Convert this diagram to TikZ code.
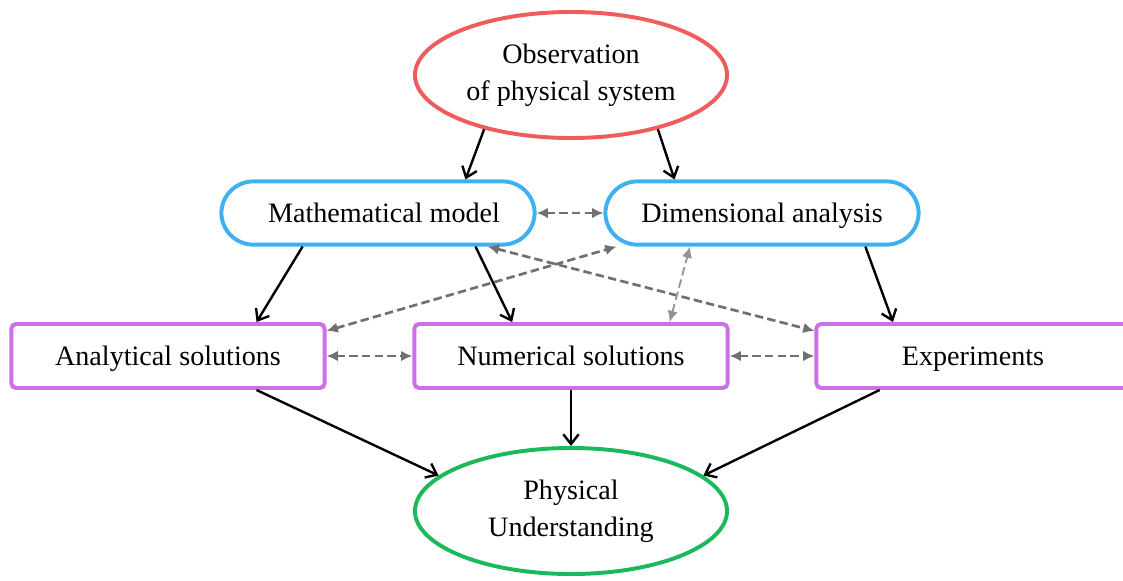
\documentclass[tikz,border=0pt]{standalone}
\usepackage{fontspec}
\setmainfont{Liberation Serif}
\usetikzlibrary{shapes.geometric,arrows.meta}

\definecolor{obsred}{RGB}{240,92,92}
\definecolor{modelblue}{RGB}{62,176,240}
\definecolor{solpurple}{RGB}{204,112,232}
\definecolor{undgreen}{RGB}{28,184,92}
\definecolor{linkgray}{RGB}{112,112,112}

\begin{document}
\begin{tikzpicture}[x=0.025cm, y=-0.025cm,
    every node/.style={font=\fontsize{20}{26}\selectfont, align=center},
    oval/.style={ellipse, draw, line width=2.8pt, minimum width=7.8cm,
                 minimum height=3.15cm, inner sep=0pt},
    pill/.style={rectangle, draw=modelblue, line width=2.8pt, rounded corners=0.8cm,
                 minimum width=7.83cm, minimum height=1.58cm,
                 text height=14pt, text depth=1pt},
    solbox/.style={rectangle, draw=solpurple, line width=2.8pt, rounded corners=0.12cm,
                   minimum width=7.83cm, minimum height=1.6cm,
                   text height=14pt, text depth=1pt},
    flow/.style={-{Straight Barb[length=7pt,width=11pt]}, line width=1.7pt},
    link/.style={{Latex[length=8pt,width=7.5pt]}-{Latex[length=8pt,width=7.5pt]},
                 dash pattern=on 6pt off 3pt, line width=1.9pt, draw=linkgray}]
  \useasboundingbox (0,0) rectangle (1123,580);

  % nodes
  \node[oval, draw=obsred] (obs) at (571,75) {Observation\\of physical system};
  \node[pill] (model) at (378,213) {\hspace*{0.3cm}Mathematical model};
  \node[pill] (dim) at (762,213) {Dimensional analysis};
  \node[solbox] (ana) at (168,356) {Analytical solutions};
  \node[solbox] (num) at (571,356) {Numerical solutions};
  \node[solbox] (exp) at (973,356) {Experiments};
  \node[oval, draw=undgreen] (phys) at (571,511) {Physical\\Understanding};

  % main flow
  \draw[flow] (obs.212) -- (model.21);
  \draw[flow] (obs.-32) -- (dim.159);
  \draw[flow] (model.204) -- (ana.21);
  \draw[flow] (model.-19) -- (num.150);
  \draw[flow] (dim.-18) -- (exp.157);
  \draw[flow] (ana.-21) -- (phys.165);
  \draw[flow] (num.south) -- (phys.north);
  \draw[flow] (exp.200) -- (phys.15);

  % cross links
  \draw[link] (model.east) -- (dim.west);
  \draw[link] (ana.east) -- (num.west);
  \draw[link] (num.east) -- (exp.west);
  \draw[link] (ana.9) -- (dim.193);
  \draw[link] (model.-17) -- (exp.171);
  \draw[link, line width=1.3pt, draw=linkgray!75] (num.19) -- (dim.205);
\end{tikzpicture}
\end{document}
